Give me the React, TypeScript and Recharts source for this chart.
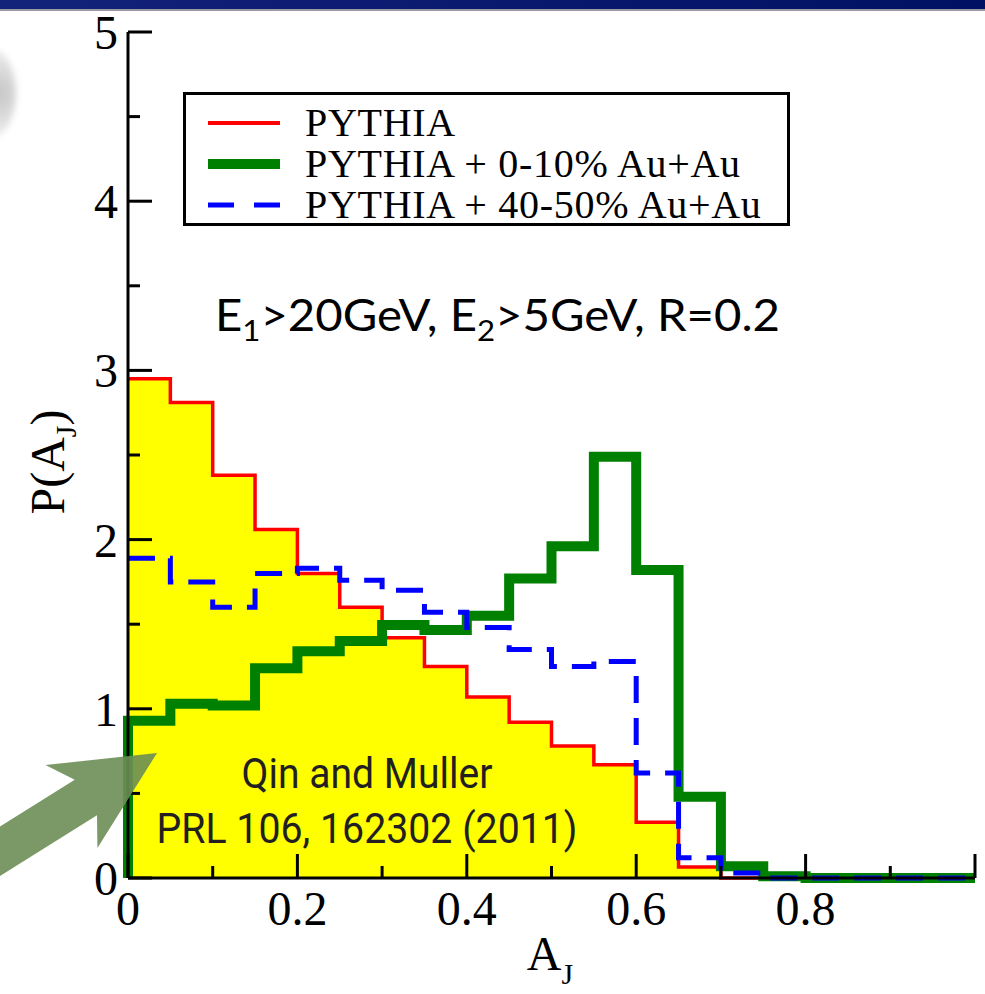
import React from "react"
import { ComposedChart, Area, Line, XAxis, YAxis, Legend } from "recharts"

// bin edges of the A_J histogram (width 0.05)
const binEdges = [
  0, 0.05, 0.1, 0.15, 0.2, 0.25, 0.3, 0.35, 0.4, 0.45, 0.5,
  0.55, 0.6, 0.65, 0.7, 0.75, 0.8, 0.85, 0.9, 0.95, 1.0,
]

// P(A_J) per bin
const pythia = [
  2.95, 2.81, 2.38, 2.06, 1.8, 1.6, 1.42, 1.25, 1.07, 0.92,
  0.78, 0.67, 0.33, 0.065, 0, 0, 0, 0, 0, 0,
]
const central = [
  0.93, 1.03, 1.02, 1.24, 1.34, 1.4, 1.495, 1.465, 1.55, 1.77,
  1.96, 2.49, 1.82, 0.48, 0.07, 0.01, 0, 0, 0, 0,
]
const peripheral = [
  1.89, 1.75, 1.6, 1.8, 1.83, 1.76, 1.7, 1.57, 1.48, 1.35,
  1.25, 1.28, 0.62, 0.12, 0.03, 0, 0, 0, 0, 0,
]

const xTicks = [0, 0.1, 0.2, 0.3, 0.4, 0.5, 0.6, 0.7, 0.8, 0.9, 1.0]
const yTicks = [0, 0.5, 1, 1.5, 2, 2.5, 3, 3.5, 4, 4.5, 5]

const seriesNames = ["PYTHIA", "PYTHIA + 0-10% Au+Au", "PYTHIA + 40-50% Au+Au"]

const SERIF = '"Liberation Serif", "Times New Roman", serif'
const SANS = "Roboto, 'Liberation Sans', sans-serif"

// histogram -> points for a stepAfter curve (last edge repeats last bin)
function stepData(values: number[], riseFromZero = false) {
  const pts = binEdges.map((x, i) => ({ x, y: values[Math.min(i, values.length - 1)] }))
  return riseFromZero ? [{ x: 0, y: 0 }, ...pts] : pts
}

const pythiaData = stepData(pythia)
const centralData = stepData(central, true)
const peripheralData = stepData(peripheral)

const isMajorX = (v: number) => Math.round(v * 10) % 2 === 0
const isMajorY = (v: number) => Math.abs(v - Math.round(v)) < 1e-6

function BottomTick({ x, y, payload }: any) {
  const v = payload.value
  const len = isMajorX(v) ? 24 : 12
  return (
    <g>
      <line x1={x} y1={y} x2={x} y2={y - len} stroke="#000" strokeWidth={3} />
      {isMajorX(v) && v < 0.99 && (
        <text x={x} y={y + 47} textAnchor="middle" fontFamily={SERIF} fontSize={48} fill="#000">
          {v === 0 ? "0" : v.toFixed(1)}
        </text>
      )}
    </g>
  )
}

function TopTick({ x, y, payload }: any) {
  const len = isMajorX(payload.value) ? 24 : 12
  return <line x1={x} y1={y} x2={x} y2={y + len} stroke="#000" strokeWidth={3} />
}

function LeftTick({ x, y, payload }: any) {
  const v = payload.value
  const len = isMajorY(v) ? 24 : 12
  return (
    <g>
      <line x1={x} y1={y} x2={x + len} y2={y} stroke="#000" strokeWidth={3} />
      {isMajorY(v) && (
        <text x={x - 10} y={y + 17} textAnchor="end" fontFamily={SERIF} fontSize={48} fill="#000">
          {v}
        </text>
      )}
    </g>
  )
}

function RightTick({ x, y, payload }: any) {
  const len = isMajorY(payload.value) ? 24 : 12
  return <line x1={x} y1={y} x2={x - len} y2={y} stroke="#000" strokeWidth={3} />
}

const legendSample: Record<string, { color: string; width: number; dash?: string }> = {
  [seriesNames[0]]: { color: "#ff0000", width: 4 },
  [seriesNames[1]]: { color: "#008000", width: 10 },
  [seriesNames[2]]: { color: "#0000ff", width: 5, dash: "26 20" },
}

function LegendBox({ payload }: any) {
  return (
    <div
      style={{
        width: 607,
        height: 134,
        boxSizing: "border-box",
        border: "3px solid #000",
        background: "#fff",
        paddingTop: 7,
        fontFamily: SERIF,
        fontSize: 40,
        color: "#000",
      }}
    >
      {(payload || []).map((p: any) => {
        const s = legendSample[p.value]
        return (
          <div key={p.value} style={{ display: "flex", alignItems: "center", height: 41, lineHeight: "41px" }}>
            <svg width={72} height={12} style={{ marginLeft: 22, marginRight: 25, flex: "none" }}>
              <line x1={0} y1={6} x2={72} y2={6} stroke={s.color} strokeWidth={s.width} strokeDasharray={s.dash} />
            </svg>
            <span style={{ whiteSpace: "nowrap", letterSpacing: 0.7 }}>{p.value}</span>
          </div>
        )
      })}
    </div>
  )
}

// big translucent slide arrow, built along its own axis
function arrowPoints() {
  const tip = [157, 753]
  const d = [-0.847, 0.53]
  const n = [0.53, 0.847]
  const shape = [
    [0, 0], [101, -49], [84, -21], [300, -21], [300, 21], [84, 21], [101, 49],
  ]
  return shape
    .map(([a, p]) => `${tip[0] + a * d[0] + p * n[0]},${tip[1] + a * d[1] + p * n[1]}`)
    .join(" ")
}

export default function App() {
  return (
    <div style={{ position: "absolute", left: 0, top: 0, width: 985, height: 994, background: "#fff", overflow: "hidden" }}>
      <div style={{ position: "absolute", left: 0, top: 0, width: 985, height: 9, background: "linear-gradient(to right, #14237a, #001062)" }} />
      <div style={{ position: "absolute", left: 0, top: 9, width: 985, height: 2, background: "#9a9aa4" }} />
      <div
        style={{
          position: "absolute", left: -34, top: 48, width: 50, height: 90, borderRadius: "50%",
          background: "radial-gradient(circle at 60% 50%, #c4c4c4, #e8e8e8 70%, #f8f8f8)", filter: "blur(3px)",
        }}
      />
      <div style={{ position: "absolute", left: 0, top: 0 }}>
        <ComposedChart width={985} height={994} margin={{ top: 32, right: 10, bottom: 56, left: 68 }}>
          <Area
            data={pythiaData}
            dataKey="y"
            name={seriesNames[0]}
            type="stepAfter"
            stroke="#ff0000"
            strokeWidth={3.5}
            fill="#ffff00"
            fillOpacity={1}
            isAnimationActive={false}
          />
          <Line
            data={centralData}
            dataKey="y"
            name={seriesNames[1]}
            type="stepAfter"
            stroke="#008000"
            strokeWidth={10}
            dot={false}
            activeDot={false}
            isAnimationActive={false}
          />
          <Line
            data={peripheralData}
            dataKey="y"
            name={seriesNames[2]}
            type="stepAfter"
            stroke="#0000ff"
            strokeWidth={5}
            strokeDasharray="27 15"
            dot={false}
            activeDot={false}
            isAnimationActive={false}
          />
          <XAxis
            dataKey="x"
            type="number"
            domain={[0, 1]}
            ticks={xTicks}
            height={60}
            tickSize={0}
            tickMargin={0}
            tickLine={false}
            axisLine={{ stroke: "#000", strokeWidth: 3 }}
            tick={BottomTick}
            interval={0}
          />
          <XAxis
            xAxisId="top"
            orientation="top"
            dataKey="x"
            type="number"
            domain={[0, 1]}
            ticks={xTicks}
            height={0}
            tickSize={0}
            tickMargin={0}
            tickLine={false}
            axisLine={{ stroke: "#000", strokeWidth: 3 }}
            tick={TopTick}
            interval={0}
          />
          <YAxis
            type="number"
            domain={[0, 5]}
            ticks={yTicks}
            width={60}
            tickSize={0}
            tickMargin={0}
            tickLine={false}
            axisLine={{ stroke: "#000", strokeWidth: 3 }}
            tick={LeftTick}
            interval={0}
          />
          <YAxis
            yAxisId="right"
            orientation="right"
            type="number"
            domain={[0, 5]}
            ticks={yTicks}
            width={0}
            tickSize={0}
            tickMargin={0}
            tickLine={false}
            axisLine={{ stroke: "#000", strokeWidth: 3 }}
            tick={RightTick}
            interval={0}
          />
          <Legend
            layout="vertical"
            align="center"
            verticalAlign="middle"
            content={LegendBox}
            wrapperStyle={{ left: 183, top: 92, width: 607, height: 134 }}
          />

          <text x={550} y={970} textAnchor="middle" fontFamily={SERIF} fontSize={48} fill="#000">
            A<tspan dy={14} fontSize={30}>J</tspan>
          </text>
          <text x={64} y={462} textAnchor="middle" fontFamily={SERIF} fontSize={48} fill="#000" transform="rotate(-90 64 462)">
            P(A<tspan dy={12} fontSize={30}>J</tspan>
            <tspan dy={-12}>)</tspan>
          </text>
        </ComposedChart>
      </div>
      <svg width={985} height={994} style={{ position: "absolute", left: 0, top: 0, pointerEvents: "none" }}>
        <text
          x={215}
          y={331}
          fontFamily="Lato, 'Open Sans', sans-serif"
          fontSize={44}
          fill="#000"
          textLength={565}
          lengthAdjust="spacingAndGlyphs"
        >
          E<tspan dy={10} fontSize={29}>1</tspan>
          <tspan dy={-10}>&gt;20GeV, E</tspan>
          <tspan dy={10} fontSize={29}>2</tspan>
          <tspan dy={-10}>&gt;5GeV, R=0.2</tspan>
        </text>
        <text x={367} y={788} textAnchor="middle" fontFamily={SANS} fontSize={42} fill="#231f20" textLength={251} lengthAdjust="spacingAndGlyphs">
          Qin and Muller
        </text>
        <text x={367} y={843} textAnchor="middle" fontFamily={SANS} fontSize={42} fill="#231f20" textLength={421} lengthAdjust="spacingAndGlyphs">
          PRL 106, 162302 (2011)
        </text>
        <polygon points={arrowPoints()} fill="#6b8e55" fillOpacity={0.9} />
      </svg>
    </div>
  )
}
